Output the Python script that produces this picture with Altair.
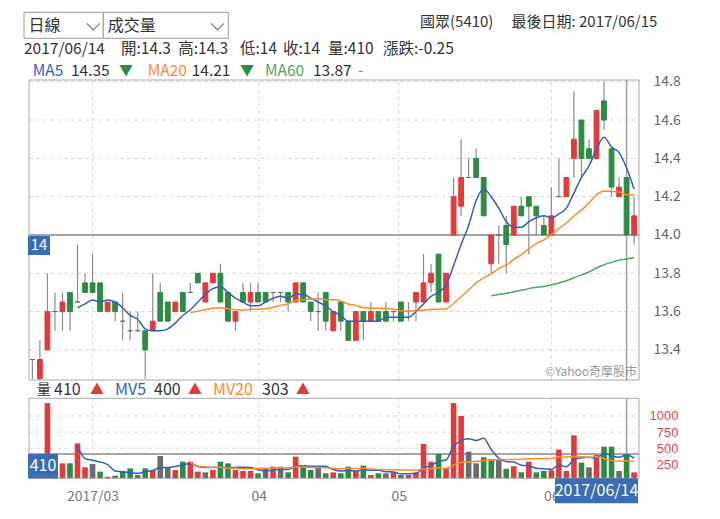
import altair as alt
import pandas as pd

# ---------------- data ----------------
opens = [13.35, 13.25, 13.40, 13.60, 13.60, 13.70, 13.65, 13.75, 13.75, 13.75,
         13.60, 13.65, 13.55, 13.50, 13.50, 13.50, 13.50, 13.70, 13.65, 13.60,
         13.70, 13.70, 13.80, 13.65, 13.75, 13.80, 13.70, 13.55, 13.70, 13.65,
         13.70, 13.70, 13.70, 13.70, 13.70, 13.65, 13.75, 13.65, 13.60, 13.70,
         13.50, 13.65, 13.55, 13.45, 13.60, 13.55, 13.60, 13.60, 13.60, 13.65,
         13.60, 13.65, 13.65, 13.75, 13.90, 13.65, 14.00, 14.15, 14.30, 14.40,
         14.30, 13.85, 14.00, 14.05, 14.00, 14.15, 14.20, 14.15, 14.05, 14.00,
         14.20, 14.20, 14.40, 14.60, 14.45, 14.40, 14.70, 14.45, 14.20, 14.30,
         14.00]
highs = [13.35, 13.45, 13.80, 13.70, 13.70, 13.70, 13.95, 13.80, 13.90, 13.75,
         13.65, 13.65, 13.70, 13.60, 13.60, 13.50, 13.80, 13.75, 13.65, 13.65,
         13.70, 13.75, 13.80, 13.75, 13.80, 13.85, 13.70, 13.60, 13.75, 13.75,
         13.75, 13.70, 13.70, 13.70, 13.70, 13.75, 13.75, 13.65, 13.70, 13.70,
         13.60, 13.65, 13.55, 13.60, 13.60, 13.65, 13.60, 13.65, 13.60, 13.65,
         13.65, 13.70, 13.90, 13.85, 13.90, 13.80, 14.30, 14.50, 14.40, 14.45,
         14.30, 14.00, 14.05, 14.10, 14.15, 14.20, 14.20, 14.15, 14.10, 14.25,
         14.40, 14.30, 14.75, 14.60, 14.50, 14.65, 14.80, 14.45, 14.30, 14.30,
         14.20]
lows = [13.25, 13.20, 13.40, 13.50, 13.50, 13.50, 13.65, 13.70, 13.70, 13.60,
        13.60, 13.55, 13.45, 13.45, 13.50, 13.25, 13.50, 13.55, 13.55, 13.60,
        13.60, 13.70, 13.75, 13.65, 13.75, 13.65, 13.55, 13.50, 13.65, 13.60,
        13.65, 13.65, 13.65, 13.65, 13.60, 13.65, 13.65, 13.55, 13.50, 13.50,
        13.50, 13.50, 13.45, 13.45, 13.45, 13.55, 13.55, 13.55, 13.55, 13.55,
        13.55, 13.55, 13.65, 13.70, 13.65, 13.65, 14.00, 14.10, 14.30, 14.30,
        14.10, 13.80, 13.85, 13.80, 14.00, 14.10, 13.90, 14.00, 14.00, 14.00,
        14.20, 14.20, 14.30, 14.30, 14.40, 14.40, 14.55, 14.20, 14.20, 14.00,
        13.95]
closes = [13.35, 13.35, 13.60, 13.60, 13.65, 13.60, 13.65, 13.70, 13.70, 13.60,
          13.65, 13.60, 13.55, 13.50, 13.50, 13.40, 13.55, 13.55, 13.55, 13.65,
          13.60, 13.70, 13.75, 13.75, 13.80, 13.65, 13.55, 13.60, 13.65, 13.70,
          13.65, 13.65, 13.70, 13.70, 13.65, 13.75, 13.65, 13.60, 13.60, 13.55,
          13.60, 13.55, 13.45, 13.60, 13.55, 13.60, 13.55, 13.55, 13.60, 13.55,
          13.60, 13.70, 13.75, 13.80, 13.65, 13.80, 14.20, 14.30, 14.30, 14.30,
          14.10, 14.00, 14.00, 13.95, 14.15, 14.10, 14.15, 14.10, 14.00, 14.10,
          14.20, 14.30, 14.50, 14.40, 14.40, 14.65, 14.60, 14.25, 14.25, 14.00,
          14.10]
volumes = [250, 300, 1200, 380, 265, 265, 575, 203, 255, 136,
           58, 73, 146, 187, 84, 187, 162, 379, 198, 162,
           291, 291, 136, 125, 162, 291, 265, 162, 146, 146,
           110, 177, 213, 213, 125, 369, 224, 162, 224, 110,
           125, 110, 213, 146, 229, 84, 110, 110, 125, 84,
           84, 125, 565, 291, 410, 187, 1200, 1000, 446, 265,
           360, 330, 330, 180, 220, 125, 290, 125, 146, 156,
           480, 146, 700, 276, 203, 395, 524, 524, 146, 410,
           125]

month_pos = [8, 30.1, 48.7, 69]
month_labels = ["2017/03", "04", "05", "06"]
price_ticks = [13.4, 13.6, 13.8, 14.0, 14.2, 14.4, 14.6, 14.8]
vol_ticks = [250, 500, 750, 1000]
vol_grid = [500, 750, 1000]
ma_periods = [5, 20, 60]
mv_periods = [5, 20]

sel = 79
sel_date = "2017/06/14"
title_name = "國眾(5410)"
title_date = "最後日期: 2017/06/15"
menu_items = ["日線", "成交量"]
info_items = ["2017/06/14", "開:14.3", "高:14.3", "低:14", "收:14", "量:410", "漲跌:-0.25"]
ma_names = ["MA5", "MA20", "MA60"]
ma_values = ["14.35", "14.21", "13.87"]
ma_marks = ["▼", "▼", "-"]
mv_names = ["量", "MV5", "MV20"]
mv_values = ["410", "400", "303"]
mv_marks = ["▲", "▲", "▲"]
watermark = "©Yahoo奇摩股市"

# ---------------- styling ----------------
FONT = "Noto Sans CJK TC"
RED, GREEN, GRAY = "#e23b3b", "#2e8b43", "#6b6b6b"
BLUE, ORANGE, LGREEN = "#2f5fc4", "#ff8a2b", "#4fa85c"
BOXBLUE = "#3a6db5"

n = len(closes)
cdir = ["up" if c > o else ("down" if c < o else "flat") for o, c in zip(opens, closes)]
vdir = ["flat"] + ["up" if closes[k] > closes[k - 1] else ("down" if closes[k] < closes[k - 1] else "flat")
                   for k in range(1, n)]
df = pd.DataFrame(dict(i=list(range(n)), o=opens, h=highs, l=lows, c=closes, v=volumes,
                       cdir=cdir, vdir=vdir))
one = alt.Data(values=[{}])

XMIN, XMAX = -0.45, 80.65
PMIN, PMAX = 13.243, 14.809
VMIN, VMAX = 32.6, 1274.8

XS = alt.Scale(domain=[XMIN, XMAX], range=[16, 636], nice=False, zero=False)
PS = alt.Scale(domain=[PMIN, PMAX], range=[372, 72], nice=False, zero=False, clamp=True)
VS = alt.Scale(domain=[VMIN, VMAX], range=[470.3, 390.3], nice=False, zero=False, clamp=True)
CS = alt.Scale(domain=["up", "down", "flat"], range=[RED, GREEN, GRAY])

lbl_expr = "".join(f"datum.value == {p} ? '{t}' : " for p, t in zip(month_pos, month_labels)) + "''"
XAX = alt.Axis(orient="bottom", offset=-32.7, values=month_pos, labelExpr=lbl_expr, ticks=False,
               domain=False, grid=False, title=None, labelFontSize=14, labelColor="#777",
               labelPadding=11, labelFont=FONT, labelOverlap=False, labelFlush=False)
PAX = alt.Axis(orient="right", offset=-68, values=price_ticks, format=".1f", ticks=False, domain=False,
               grid=False, title=None, labelFontSize=14, labelColor="#666", labelPadding=9,
               labelFont=FONT, labelOverlap=False, labelFlush=False)
VAX = alt.Axis(orient="right", offset=-68, values=vol_ticks, format="d", ticks=False, domain=False,
               grid=False, title=None, labelFontSize=13, labelColor="#e8464a", labelAlign="right",
               labelPadding=34, labelFont="Liberation Sans", labelOverlap=False, labelFlush=False)


def X(f):
    return alt.X(f, type="quantitative", scale=XS, axis=XAX)


def XD(v):
    return alt.XDatum(v, type="quantitative", scale=XS, axis=XAX)


def P(f, axis=None):
    return alt.Y(f, type="quantitative", scale=PS, axis=axis)


def PD(v):
    return alt.YDatum(v, type="quantitative", scale=PS, axis=None)


def V(f, axis=None):
    return alt.Y(f, type="quantitative", scale=VS, axis=axis)


def VD(v):
    return alt.YDatum(v, type="quantitative", scale=VS, axis=None)


def label(text, x, y, color="#333", size=16, align="left"):
    return alt.Chart(one).mark_text(font=FONT, fontSize=size, color=color, align=align,
                                    baseline="middle").encode(
        x=alt.value(x), y=alt.value(y), text=alt.value(text))


layers = []
base = alt.Chart(df)
GRID = dict(color="#dadada", strokeDash=[4, 3], strokeWidth=1)

# grids
layers.append(alt.Chart(pd.DataFrame({"p": price_ticks})).mark_rule(**GRID).encode(
    x=XD(XMIN), x2=alt.X2Datum(XMAX), y=P("p", PAX)))
layers.append(alt.Chart(pd.DataFrame({"g": vol_grid})).mark_rule(**GRID).encode(
    x=XD(XMIN), x2=alt.X2Datum(XMAX), y=V("g", VAX)))
mdf = pd.DataFrame({"m": month_pos})
layers.append(alt.Chart(mdf).mark_rule(**GRID).encode(x=X("m"), y=PD(PMIN), y2=alt.Y2Datum(PMAX)))
layers.append(alt.Chart(mdf).mark_rule(**GRID).encode(x=X("m"), y=VD(VMIN), y2=alt.Y2Datum(VMAX)))

# current value lines and crosshair
layers.append(alt.Chart(one).mark_rule(color="#8a8a8a", strokeWidth=1.5).encode(
    x=XD(XMIN), x2=alt.X2Datum(XMAX), y=PD(closes[sel])))
layers.append(alt.Chart(one).mark_rule(color="#8a8a8a", strokeWidth=1.5).encode(
    x=XD(XMIN), x2=alt.X2Datum(XMAX), y=VD(volumes[sel])))
layers.append(alt.Chart(one).mark_rule(color="#a0a0a0", strokeWidth=1.5).encode(
    x=XD(sel), y=PD(PMIN), y2=alt.Y2Datum(PMAX)))
layers.append(alt.Chart(one).mark_rule(color="#a0a0a0", strokeWidth=1.5).encode(
    x=XD(sel), y=VD(VMIN), y2=alt.Y2Datum(VMAX)))

# candles
layers.append(base.mark_rule(color="#8c8c8c", strokeWidth=1.2).encode(
    x=X("i"), y=P("h"), y2=alt.Y2("l")))
layers.append(base.mark_bar(size=4.8, strokeWidth=1).encode(
    x=X("i"), y=P("o"), y2=alt.Y2("c"),
    fill=alt.Fill("cdir:N", scale=CS, legend=None),
    stroke=alt.Stroke("cdir:N", scale=CS, legend=None)))

# moving averages
for p, col in zip(ma_periods, [BLUE, ORANGE, LGREEN]):
    layers.append(base.transform_window(m="mean(c)", frame=[-(p - 1), 0], sort=[alt.SortField("i")])
                  .transform_filter(alt.datum.i >= p + 1)
                  .mark_line(color=col, strokeWidth=1.5, interpolate="monotone")
                  .encode(x=X("i"), y=P("m:Q")))

# volume
layers.append(base.mark_bar(size=5.6).encode(
    x=X("i"), y=V("v"), y2=alt.Y2Datum(0),
    fill=alt.Fill("vdir:N", scale=CS, legend=None)))
for p, col in zip(mv_periods, [BLUE, ORANGE]):
    layers.append(base.transform_window(m="mean(v)", frame=[-(p - 1), 0], sort=[alt.SortField("i")])
                  .transform_filter(alt.datum.i >= p + 1)
                  .mark_line(color=col, strokeWidth=1.5, interpolate="monotone")
                  .encode(x=X("i"), y=V("m:Q")))

# panel borders
layers.append(alt.Chart(one).mark_rect(filled=False, color="#a8a8a8", strokeWidth=1).encode(
    x=XD(XMIN), x2=alt.X2Datum(XMAX), y=PD(PMIN), y2=alt.Y2Datum(PMAX)))
layers.append(alt.Chart(one).mark_rect(filled=False, color="#a8a8a8", strokeWidth=1).encode(
    x=XD(XMIN), x2=alt.X2Datum(XMAX), y=VD(VMIN), y2=alt.Y2Datum(VMAX)))

# value tags
layers.append(alt.Chart(one).mark_rect(color=BOXBLUE, xOffset=-1, x2Offset=21, yOffset=1, y2Offset=20).encode(
    x=XD(XMIN), x2=alt.X2Datum(XMIN), y=PD(closes[sel]), y2=alt.Y2Datum(closes[sel])))
layers.append(alt.Chart(one).mark_text(color="white", font=FONT, fontSize=15, align="center",
                                       baseline="middle", dx=10, dy=10.5).encode(
    x=XD(XMIN), y=PD(closes[sel]), text=alt.value(f"{closes[sel]:g}")))
layers.append(alt.Chart(one).mark_rect(color=BOXBLUE, xOffset=-1, x2Offset=29).encode(
    x=XD(XMIN), x2=alt.X2Datum(XMIN), y=VD(volumes[sel]), y2=alt.Y2Datum(VMIN)))
layers.append(alt.Chart(one).mark_text(color="white", font=FONT, fontSize=16, align="center",
                                       baseline="middle", dx=14, dy=-12).encode(
    x=XD(XMIN), y=VD(VMIN), text=alt.value(str(volumes[sel]))))
layers.append(alt.Chart(one).mark_rect(color=BOXBLUE, xOffset=-84, x2Offset=-1, y2Offset=25).encode(
    x=XD(XMAX), x2=alt.X2Datum(XMAX), y=VD(VMIN), y2=alt.Y2Datum(VMIN)))
layers.append(alt.Chart(one).mark_text(color="white", font=FONT, fontSize=16, align="center",
                                       baseline="middle", dx=-42.5, dy=12.5).encode(
    x=XD(XMAX), y=VD(VMIN), text=alt.value(sel_date)))
layers.append(alt.Chart(one).mark_text(color="#999", font=FONT, fontSize=12, align="right",
                                       baseline="middle", dx=-2, dy=-8).encode(
    x=XD(XMAX), y=PD(PMIN), text=alt.value(watermark)))

# menus
for (x1, x2), txt, chev in zip([(16, 95.3), (95.3, 220.3)], menu_items, [85.3, 209.5]):
    layers.append(alt.Chart(one).mark_rect(fill="white", stroke="#9a9a9a", strokeWidth=1).encode(
        x=alt.value(x1), x2=alt.value(x2), y=alt.value(4.3), y2=alt.value(30.3)))
    layers.append(label(txt, x1 + 4.5, 18, size=16))
    layers.append(alt.Chart(one).mark_point(shape="M -1 -0.5 L 0 0.5 L 1 -0.5", filled=False, size=169,
                                            strokeWidth=1.1, color="#777", opacity=1).encode(
        x=alt.value(chev), y=alt.value(18.7)))

# header texts
layers.append(label(title_name, 412, 13.5, size=15))
layers.append(label(title_date, 503.5, 13.5, size=15))
for txt, x in zip(info_items, [16, 113, 170.3, 232, 275, 320, 375]):
    layers.append(label(txt, x, 40.5, size=15.5))
ma_x = [(24.7, 63, 111), (139.7, 183.7, 232), (257, 305, 350)]
for (a, b, c), nm, val, mk, col in zip(ma_x, ma_names, ma_values, ma_marks, [BLUE, ORANGE, LGREEN]):
    layers.append(label(nm, a, 63, color=col, size=15.5))
    layers.append(label(val, b, 63, size=15.5))
    layers.append(label(mk, c, 63, color=GREEN if mk == "▼" else "#888", size=14 if mk == "▼" else 15.5))
mv_x = [(28.7, 46, 82), (107, 146, 180), (205, 254, 288)]
for (a, b, c), nm, val, mk, col in zip(mv_x, mv_names, mv_values, mv_marks, ["#333", BLUE, ORANGE]):
    layers.append(label(nm, a, 382, color=col, size=14 if nm == "量" else 16))
    layers.append(label(val, b, 382))
    layers.append(label(mk, c, 382, color=RED, size=14))

chart = alt.layer(*layers).resolve_scale(y="independent").properties(
    width=704, height=503, padding=0, autosize=alt.AutoSizeParams(type="none"),
    background="white"
).configure_view(stroke=None)

chart.save("out.html", embed_options={"renderer": "svg", "actions": False})
